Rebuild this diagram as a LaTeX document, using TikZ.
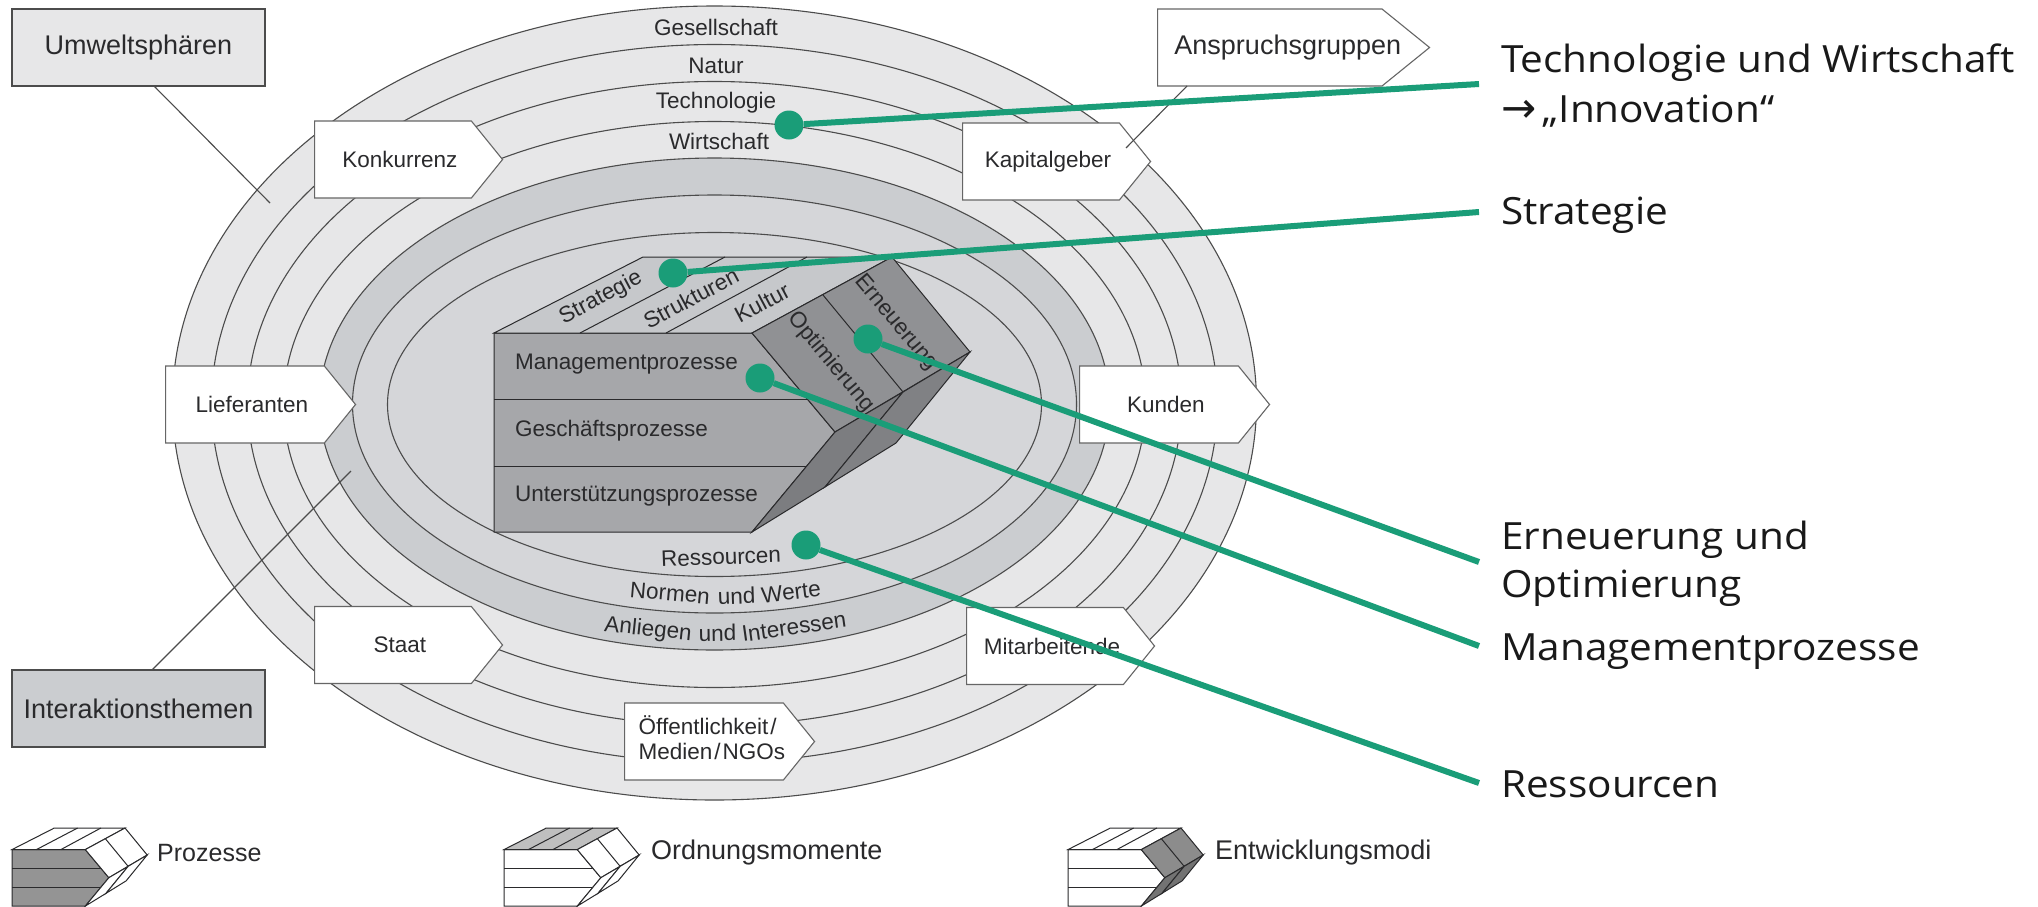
\documentclass[tikz,border=0pt]{standalone}
\usepackage{fontspec}
\setmainfont{Liberation Sans}
\newfontfamily\notefont[FakeStretch=1.08]{Open Sans}
\newfontfamily\arrowfont{DejaVu Sans}
\usetikzlibrary{shapes.symbols}
\definecolor{ringlight}{HTML}{E7E7E8}
\definecolor{ringdark}{HTML}{CBCDD0}
\definecolor{ringinner}{HTML}{D5D6D9}
\definecolor{inkgray}{HTML}{2A2A2C}
\definecolor{notegreen}{HTML}{1A9D78}
\definecolor{blockfront}{HTML}{A6A7AA}
\definecolor{blocktop}{HTML}{C6C8CB}
\definecolor{blockupper}{HTML}{909194}
\definecolor{blocklowerA}{HTML}{7C7D80}
\definecolor{blocklowerB}{HTML}{808184}
\newcommand{\shiftedtext}[2]{\hspace*{#1}\makebox[0pt]{#2}}
\newcommand{\drawblock}[5]{% front, top, upper, lower left, lower right
  \filldraw[blockline,fill=#1] (0,76) -- (258,76) -- (341,175) -- (258,275) -- (0,275) -- cycle;
  \draw[blockline] (0,142) -- (313,142);
  \draw[blockline] (0,209) -- (313,209);
  \filldraw[blockline,fill=#2] (0,76) -- (149,0) -- (398,0) -- (258,76) -- cycle;
  \draw[blockline] (86,76) -- (231,0);
  \draw[blockline] (172,76) -- (313,0);
  \filldraw[blockline,fill=#3] (258,76) -- (398,0) -- (476,95) -- (341,175) -- cycle;
  \draw[blockline] (329,38) -- (409,135);
  \filldraw[blockline,fill=#4] (341,175) -- (409,135) -- (331,230) -- (258,275) -- cycle;
  \filldraw[blockline,fill=#5] (409,135) -- (476,95) -- (402,186) -- (331,230) -- cycle;
}
\tikzset{
  blockline/.style={draw=inkgray,line width=1pt},
  ring/.style={draw=black!70,line width=1.1pt},
  themebox/.style={draw=black!70,line width=1.1pt,minimum width=253pt,minimum height=77pt,inner sep=0pt,font=\fontsize{27}{30}\selectfont,text=inkgray},
  groupbox/.style={signal,signal to=east,signal pointer angle=102,draw=black!60,fill=white,line width=1.1pt,minimum height=77pt,inner sep=0pt,anchor=west,font=\fontsize{22.5}{25}\selectfont,text=inkgray},
  lbl/.style={inner sep=0pt,font=\fontsize{22.5}{25}\selectfont,text=inkgray},
  legendlbl/.style={inner sep=0pt,anchor=west,font=\fontsize{27}{30}\selectfont,text=inkgray},
  notelbl/.style={inner sep=0pt,anchor=base west,font=\notefont\fontsize{37.5}{50}\selectfont,text=black!90},
  dotpt/.style={circle,fill=notegreen,minimum size=29pt,inner sep=0pt},
  noteline/.style={draw=notegreen,line width=6pt}
}
\begin{document}
\begin{tikzpicture}[x=1pt,y=-1pt]
  \fill[white] (0,0) rectangle (2038,906);
  \useasboundingbox (0,0) rectangle (2038,906);

  % Rings
  \foreach \rx/\ry/\cy/\shade in {542/397/403/ringlight,503/359/403.5/ringlight,467/322/403.5/ringlight,431/283/404.5/ringlight,395/246/404/ringdark,362/209/404/ringinner,327/172/404.5/ringinner}
    \filldraw[ring,fill=\shade] (714.5,\cy) ellipse [x radius=\rx pt,y radius=\ry pt];

  % Ring labels
  \node[lbl] (gesellschaft) at (716,27) {Gesellschaft};
  \node[lbl] (natur) at (716,66) {Natur};
  \node[lbl] (technologie) at (716,103) {Technologie};
  \node[lbl] (wirtschaft) at (719,141) {Wirtschaft};
  \node[lbl,rotate=2] (ressourcen) at (721,557) {Ressourcen};
  \node[lbl,rotate=-5] (normen) at (670,593) {Normen};
  \node[lbl,rotate=2] (normenUnd) at (736.5,596) {und};
  \node[lbl,rotate=7] (werte) at (791,592) {Werte};
  \node[lbl,rotate=-6] (anliegen) at (648,630) {Anliegen};
  \node[lbl,rotate=1] (anliegenUnd) at (717.5,633) {und};
  \node[lbl,rotate=8] (interessen) at (794,627) {Interessen};

  % Boxes
  \node[themebox,fill=ringlight] (umwelt) at (138.5,47.5) {Umweltsphären};
  \node[themebox,fill=ringdark] (themen) at (138.5,708.5) {Interaktionsthemen};
  \node[groupbox,signal pointer angle=78,minimum width=272pt,font=\fontsize{27}{30}\selectfont] (anspruch) at (1157,47.5) {\shiftedtext{36pt}{Anspruchsgruppen}};
  \node[groupbox,minimum width=188pt] (konkurrenz) at (314,159.5) {\shiftedtext{14pt}{Konkurrenz}};
  \node[groupbox,minimum width=188pt] (kapital) at (962,161.5) {\shiftedtext{14pt}{Kapitalgeber}};
  \node[groupbox,minimum width=190pt] (lieferanten) at (165,404.5) {\shiftedtext{14pt}{Lieferanten}};
  \node[groupbox,minimum width=190pt] (kunden) at (1079,404.5) {\shiftedtext{14pt}{Kunden}};
  \node[groupbox,minimum width=188pt] (staat) at (314,645) {\shiftedtext{14pt}{Staat}};
  \node[groupbox,minimum width=188pt] (mitarbeitende) at (966,646) {\shiftedtext{14pt}{Mitarbeitende}};
  \node[groupbox,minimum width=190pt] (medien) at (624,741.5) {\shiftedtext{16pt}{\begin{tabular}{@{}l@{}}Öffentlichkeit\kern2pt/\\Medien\kern2pt/\kern2pt NGOs\end{tabular}}};

  % Leader lines
  \coordinate (umweltEnd) at (270,203);
  \coordinate (themenEnd) at (351,471);
  \coordinate (anspruchEnd) at (1126,148);
  \draw[ring] (154,86) -- (umweltEnd);
  \draw[ring] (152,670) -- (themenEnd);
  \draw[ring] (1187,86) -- (anspruchEnd);

  % Block
  \begin{scope}[shift={(494,257)}]
    \drawblock{blockfront}{blocktop}{blockupper}{blocklowerA}{blocklowerB}
  \end{scope}
  \node[lbl,anchor=west] (mgmt) at (515,364) {Managementprozesse};
  \node[lbl,anchor=west] (geschaeft) at (515,431) {Geschäftsprozesse};
  \node[lbl,anchor=west] (support) at (515,496) {Unterstützungsprozesse};
  \node[lbl,rotate=28] (strategie) at (601,298) {Strategie};
  \node[lbl,rotate=28] (strukturen) at (691,298) {Strukturen};
  \node[lbl,rotate=28] (kultur) at (762,303) {Kultur};
  \node[lbl,rotate=-50] (optimierung) at (831,362) {Optimierung};
  \node[lbl,rotate=-50] (erneuerung) at (896,323) {Erneuerung};

  % Legend
  \begin{scope}[shift={(12,828)},scale=.284]
    \drawblock{black!42}{white}{white}{white}{white}
  \end{scope}
  \begin{scope}[shift={(504,828)},scale=.284]
    \drawblock{white}{black!25}{white}{white}{white}
  \end{scope}
  \begin{scope}[shift={(1068,828)},scale=.284]
    \drawblock{white}{white}{black!45}{black!55}{black!55}
  \end{scope}
  \node[legendlbl,font=\fontsize{25}{30}\selectfont] (prozesse) at (157,853) {Prozesse};
  \node[legendlbl] (ordnung) at (651,853) {Ordnungsmomente};
  \node[legendlbl] (modi) at (1215,853) {Entwicklungsmodi};

  % Notes
  \node[notelbl] (noteTech) at (1501,72) {Technologie und Wirtschaft};
  \node[notelbl] (noteInno) at (1501,122) {{\arrowfont\fontsize{42}{50}\selectfont →}\kern6pt „Innovation“};
  \node[notelbl] (noteStrat) at (1501,224) {Strategie};
  \node[notelbl] (noteErn) at (1501,549) {Erneuerung und};
  \node[notelbl] (noteOpt) at (1501,597) {Optimierung};
  \node[notelbl] (noteMgmt) at (1501,660) {Managementprozesse};
  \node[notelbl] (noteRes) at (1501,797) {Ressourcen};

  \node[dotpt] (dotTech) at (789,125) {};
  \node[dotpt] (dotStrat) at (673,273) {};
  \node[dotpt] (dotErn) at (868,339) {};
  \node[dotpt] (dotMgmt) at (760,378) {};
  \node[dotpt] (dotRes) at (806,545) {};
  \coordinate (endTech) at (1479,84);
  \coordinate (endStrat) at (1479,212);
  \coordinate (endErn) at (1479,562);
  \coordinate (endMgmt) at (1479,646);
  \coordinate (endRes) at (1479,783);

  % Connect the notes
  \draw[noteline] (dotTech) -- (endTech);
  \draw[noteline] (dotStrat) -- (endStrat);
  \draw[noteline] (dotErn) -- (endErn);
  \draw[noteline] (dotMgmt) -- (endMgmt);
  \draw[noteline] (dotRes) -- (endRes);
\end{tikzpicture}
\end{document}
